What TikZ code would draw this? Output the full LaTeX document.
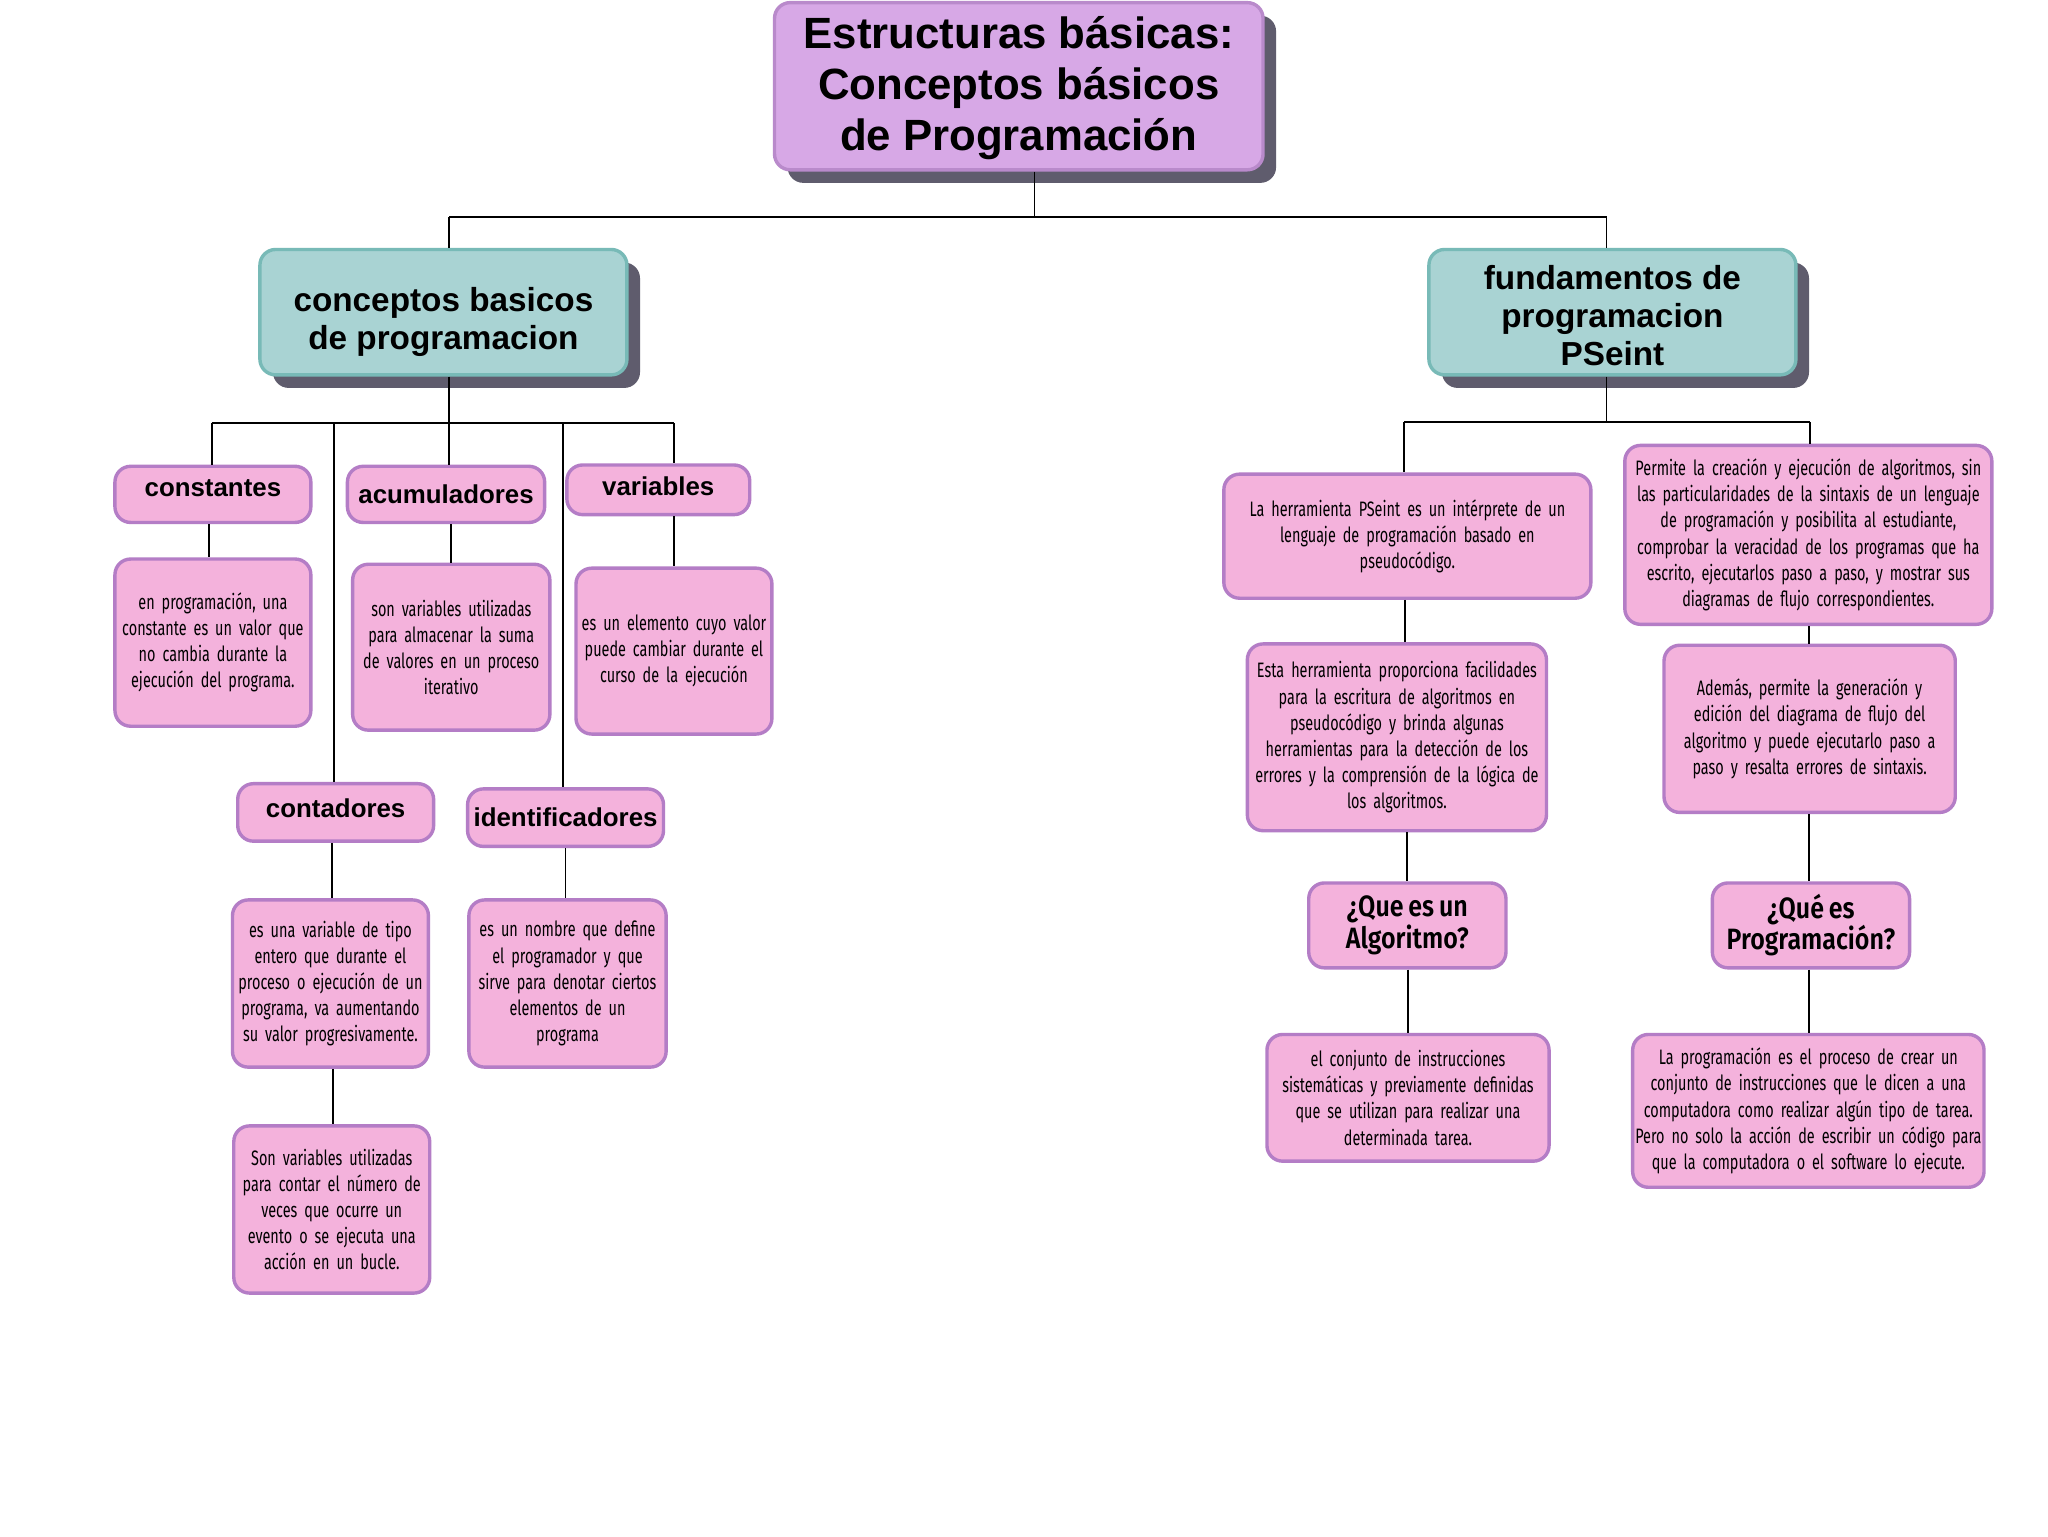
\documentclass[tikz,border=0pt]{standalone}
\usepackage{fontspec}
\usetikzlibrary{shadows}
\newfontfamily\headfam{Liberation Sans}[BoldFont={Liberation Sans Bold}]
\newfontfamily\condfam{Fira Sans}[FakeStretch=0.69, WordSpace=0.72]
\newfontfamily\condbold{Fira Sans SemiBold}[FakeStretch=0.85, WordSpace=0.8]
\definecolor{pinkfill}{HTML}{F4B2DC}
\definecolor{pinkborder}{HTML}{B47DC6}
\definecolor{titlefill}{HTML}{D7A8E6}
\definecolor{titleborder}{HTML}{B98ACB}
\definecolor{tealfill}{HTML}{A9D3D3}
\definecolor{tealborder}{HTML}{78BAB7}
\definecolor{shadowgrey}{HTML}{5F5C6D}
\tikzset{
  x=1pt, y=-1pt,
  box/.style={rounded corners=12pt, line width=2.6pt, draw=pinkborder, fill=pinkfill,
    align=center, inner sep=0pt, text=black},
  headbox/.style={box, font=\headfam\bfseries\fontsize{19.8}{24}\selectfont},
  descbox/.style={box, font=\condfam\fontsize{16}{20}\selectfont},
  qbox/.style={box, font=\condbold\fontsize{22.5}{24}\selectfont},
  shadowed/.style={drop shadow={shadow xshift=10pt, shadow yshift=-10pt, fill=shadowgrey, opacity=1}},
  titlebox/.style={box, shadowed, fill=titlefill, draw=titleborder,
    font=\headfam\bfseries\fontsize{33.5}{39}\selectfont},
  tealbox/.style={box, shadowed, fill=tealfill, draw=tealborder,
    font=\headfam\bfseries\fontsize{25.5}{29}\selectfont},
  conn/.style={line width=1.4pt, draw=black},
}
\begin{document}
\begin{tikzpicture}
\useasboundingbox (0,0) rectangle (1568,1176);
\fill[white] (0,0) rectangle (1568,1176);

% title and level 1
\node[titlebox, minimum width=374pt, minimum height=128pt] (title) at (780,66)
  {\rule{0pt}{28pt}Estructuras básicas:\\Conceptos básicos\\de Programación};
\node[tealbox, minimum width=281pt, minimum height=96pt] (cl) at (339.5,239)
  {\rule{0pt}{34pt}conceptos basicos\\de programacion};
\node[tealbox, minimum width=281pt, minimum height=96pt] (cr) at (1234.5,239)
  {\rule{0pt}{24pt}fundamentos de\\programacion\\PSeint};

% left branch
\node[headbox, minimum width=150pt, minimum height=43pt] (const) at (163,378.5) {constantes\rule[-9pt]{0pt}{1pt}};
\node[descbox, minimum width=150pt, minimum height=128pt, text width=146pt] (constd) at (163,492)
  {en programación, una\\constante es un valor que\\no cambia durante la\\ejecución del programa.};
\node[headbox, minimum width=151pt, minimum height=43pt] (acum) at (341.5,378.5) {acumuladores};
\node[descbox, minimum width=151pt, minimum height=127pt, text width=147pt] (acumd) at (345.5,495.5)
  {son variables utilizadas\\para almacenar la suma\\de valores en un proceso\\iterativo};
\node[headbox, minimum width=140pt, minimum height=38pt] (var) at (504,375) {variables\rule[-6pt]{0pt}{1pt}};
\node[descbox, minimum width=150pt, minimum height=127pt, text width=148pt] (vard) at (516,498.5)
  {es un elemento cuyo valor\\puede cambiar durante el\\curso de la ejecución};
\node[headbox, minimum width=150pt, minimum height=44pt] (cont) at (257,622) {contadores\rule[-7pt]{0pt}{1pt}};
\node[descbox, minimum width=150pt, minimum height=128pt, text width=148pt] (contd) at (253,753)
  {es una variable de tipo\\entero que durante el\\proceso o ejecución de un\\programa, va aumentando\\su valor progresivamente.};
\node[descbox, minimum width=150pt, minimum height=128pt, text width=148pt] (contd2) at (254,926)
  {Son variables utilizadas\\para contar el número de\\veces que ocurre un\\evento o se ejecuta una\\acción en un bucle.};
\node[headbox, minimum width=150pt, minimum height=44pt] (ident) at (433,626) {identificadores};
\node[descbox, minimum width=151pt, minimum height=128pt, text width=149pt] (identd) at (434.5,753)
  {es un nombre que define\\el programador y que\\sirve para denotar ciertos\\elementos de un\\programa};

% right branch
\node[descbox, minimum width=281pt, minimum height=95pt, text width=275pt] (ps1) at (1077.5,410.5)
  {La herramienta PSeint es un intérprete de un\\lenguaje de programación basado en\\pseudocódigo.};
\node[descbox, minimum width=229pt, minimum height=143pt, text width=227pt] (ps2) at (1069.5,564.5)
  {Esta herramienta proporciona facilidades\\para la escritura de algoritmos en\\pseudocódigo y brinda algunas\\herramientas para la detección de los\\errores y la comprensión de la lógica de\\los algoritmos.};
\node[qbox, minimum width=151pt, minimum height=65pt] (qalg) at (1077.5,708.5) {¿Que es un\\Algoritmo?};
\node[descbox, minimum width=216pt, minimum height=97pt, text width=214pt] (alg) at (1078,840.5)
  {el conjunto de instrucciones\\sistemáticas y previamente definidas\\que se utilizan para realizar una\\determinada tarea.};
\node[descbox, minimum width=281pt, minimum height=137pt, text width=279pt] (ps3) at (1384.5,409.5)
  {Permite la creación y ejecución de algoritmos, sin\\las particularidades de la sintaxis de un lenguaje\\de programación y posibilita al estudiante,\\comprobar la veracidad de los programas que ha\\escrito, ejecutarlos paso a paso, y mostrar sus\\diagramas de flujo correspondientes.};
\node[descbox, minimum width=223pt, minimum height=128pt, text width=219pt] (ps4) at (1385.5,558)
  {Además, permite la generación y\\edición del diagrama de flujo del\\algoritmo y puede ejecutarlo paso a\\paso y resalta errores de sintaxis.};
\node[qbox, minimum width=151pt, minimum height=65pt] (qprog) at (1386.5,708.5) {¿Qué es\\Programación?};
\node[descbox, minimum width=269pt, minimum height=117pt, text width=267pt] (prog) at (1384.5,850.5)
  {La programación es el proceso de crear un\\conjunto de instrucciones que le dicen a una\\computadora como realizar algún tipo de tarea.\\Pero no solo la acción de escribir un código para\\que la computadora o el software lo ejecute.};

% connector coordinates
\coordinate (tb) at (792,166);
\coordinate (lb) at (344,166);
\coordinate (rb) at (1230,166);
\coordinate (lh) at (344,324);
\coordinate (l1) at (162,324);
\coordinate (l2) at (256,324);
\coordinate (l4) at (431,324);
\coordinate (l5) at (516,324);
\coordinate (rh) at (1230,323);
\coordinate (r1) at (1075,323);
\coordinate (r2) at (1386,323);

\draw[conn] (tb |- title.south) -- (tb);
\draw[conn] (lb) -- (rb);
\draw[conn] (lb) -- (lb |- cl.north);
\draw[conn] (rb) -- (rb |- cr.north);

\draw[conn] (lh |- cl.south) -- (lh);
\draw[conn] (l1) -- (l5);
\draw[conn] (l1) -- (l1 |- const.north);
\draw[conn] (l2) -- (l2 |- cont.north);
\draw[conn] (lh) -- (lh |- acum.north);
\draw[conn] (l4) -- (l4 |- ident.north);
\draw[conn] (l5) -- (l5 |- var.north);

\draw[conn] (160,0 |- const.south) -- (160,0 |- constd.north);
\draw[conn] (345,0 |- acum.south) -- (345,0 |- acumd.north);
\draw[conn] (516,0 |- var.south) -- (516,0 |- vard.north);
\draw[conn] (254,0 |- cont.south) -- (254,0 |- contd.north);
\draw[conn] (255,0 |- contd.south) -- (255,0 |- contd2.north);
\draw[conn] (433,0 |- ident.south) -- (433,0 |- identd.north);

\draw[conn] (rh |- cr.south) -- (rh);
\draw[conn] (r1) -- (r2);
\draw[conn] (r1) -- (r1 |- ps1.north);
\draw[conn] (r2) -- (r2 |- ps3.north);
\draw[conn] (1076,0 |- ps1.south) -- (1076,0 |- ps2.north);
\draw[conn] (1077,0 |- ps2.south) -- (1077,0 |- qalg.north);
\draw[conn] (1078,0 |- qalg.south) -- (1078,0 |- alg.north);
\draw[conn] (1385,0 |- ps3.south) -- (1385,0 |- ps4.north);
\draw[conn] (1385,0 |- ps4.south) -- (1385,0 |- qprog.north);
\draw[conn] (1385,0 |- qprog.south) -- (1385,0 |- prog.north);
\end{tikzpicture}
\end{document}
